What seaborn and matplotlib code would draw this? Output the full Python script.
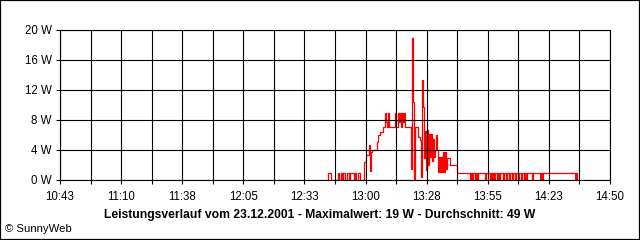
import numpy as np
import pandas as pd
import matplotlib
matplotlib.use("Agg")
import matplotlib.pyplot as plt
from matplotlib.patches import Rectangle
import seaborn as sns

times = ["12:43:00", "12:43:20", "12:44:40", "12:47:50", "12:48:20", "12:49:10", "12:49:40",
         "12:50:00", "12:51:00", "12:51:50", "12:52:50", "12:53:10", "12:55:00", "12:55:30",
         "12:56:00", "12:56:50", "12:57:40", "12:59:30", "13:00:30", "13:01:50", "13:02:10",
         "13:02:40", "13:03:10", "13:05:20", "13:05:50", "13:06:40", "13:08:00", "13:09:00",
         "13:09:20", "13:09:50", "13:10:20", "13:10:50", "13:13:30", "13:13:50", "13:14:50",
         "13:15:10", "13:15:40", "13:16:10", "13:16:40", "13:17:00", "13:17:30", "13:18:00",
         "13:20:40", "13:21:00", "13:21:30", "13:22:00", "13:22:30", "13:23:50", "13:24:40",
         "13:25:10", "13:25:30", "13:26:00", "13:26:30", "13:27:00", "13:27:20", "13:27:50",
         "13:28:20", "13:28:40", "13:29:10", "13:29:40", "13:30:00", "13:30:30", "13:31:00",
         "13:31:20", "13:31:50", "13:32:20", "13:32:50", "13:33:10", "13:33:40", "13:34:10",
         "13:34:30", "13:35:00", "13:35:30", "13:35:50", "13:36:20", "13:36:50", "13:37:10",
         "13:38:10", "13:41:20",
         "13:47:10", "13:47:30", "13:48:00", "13:48:30", "13:49:20", "13:49:50", "13:50:20", "13:50:40",
         "13:53:50", "13:54:20",
         "13:56:10", "13:56:30", "13:57:00", "13:57:30", "13:57:50", "13:58:20", "13:59:20", "13:59:40",
         "14:00:10", "14:00:40",
         "14:02:00", "14:02:20", "14:03:20", "14:03:40", "14:04:40", "14:05:10", "14:06:00", "14:06:30",
         "14:07:20", "14:07:50", "14:08:40", "14:09:10",
         "14:10:00", "14:10:30", "14:11:20", "14:11:50", "14:12:20", "14:12:40",
         "14:15:00", "14:15:30",
         "14:18:30", "14:19:00", "14:19:30", "14:19:50",
         "14:34:20", "14:34:40", "14:35:10", "14:35:40"]

watts = [0, 1, 0, 1, 0, 1, 0,
         1, 0, 1, 0, 1, 0, 1,
         0, 1, 0, 2.4, 3.3, 4.7, 1.2,
         3.8, 4.0, 5.1, 6.0, 6.4, 7.1, 9.0,
         7.8, 7.1, 9.0, 7.1, 9.0, 7.1, 9.0,
         7.8, 9.0, 7.1, 9.0, 7.8, 9.0, 7.1,
         1.5, 19.0, 10.4, 0.2, 7.1, 5.8, 5.3,
         0.4, 13.3, 9.8, 3.0, 6.5, 1.3, 6.7,
         2.0, 6.2, 3.1, 6.2, 2.5, 5.5, 3.1,
         4.0, 6.0, 4.0, 1.1, 3.1, 1.1, 3.1,
         1.1, 3.8, 1.1, 3.8, 1.5, 3.0, 2.9,
         2.0, 1.0,
         0, 1, 0, 1, 0, 1, 0, 1,
         0, 1,
         0, 1, 0, 1, 0, 1, 0, 1,
         0, 1,
         0, 1, 0, 1, 0, 1, 0, 1,
         0, 1, 0, 1,
         0, 1, 0, 1, 0, 1,
         0, 1,
         0, 1, 0, 1,
         0, 1, 0, 0]

x_labels = ["10:43", "11:10", "11:38", "12:05", "12:33", "13:00", "13:28", "13:55", "14:23", "14:50"]
y_values = [0, 4, 8, 12, 16, 20]
y_labels = ["0 W", "4 W", "8 W", "12 W", "16 W", "20 W"]
title = "Leistungsverlauf vom 23.12.2001 - Maximalwert: 19 W - Durchschnitt: 49 W"
credit = "\u00a9 SunnyWeb"

sns.set_theme(style="white")
plt.rcParams['font.family'] = ['Liberation Sans', 'DejaVu Sans']

df = pd.DataFrame({"time": times, "watt": watts})
df["minute"] = pd.to_timedelta(df["time"]).dt.total_seconds() / 60.0

def to_min(s):
    h, m = s.split(":")
    return int(h) * 60 + int(m)

x0, x1 = to_min(x_labels[0]), to_min(x_labels[-1])

fig = plt.figure(figsize=(6.4, 2.4), dpi=100)
fig.patch.set_facecolor("white")
ax = fig.add_axes([60 / 640, 60 / 240, 550 / 640, 150 / 240])
sns.lineplot(data=df, x="minute", y="watt", ax=ax, color="#ff0000", linewidth=0.9,
             drawstyle="steps-post", estimator=None, sort=False)

ax.set_xlim(x0, x1)
ax.set_ylim(0, 20)
xt = np.linspace(x0, x1, 2 * (len(x_labels) - 1) + 1)
ax.set_xticks(xt)
lbls = []
for i in range(len(xt)):
    lbls.append(x_labels[i // 2] if i % 2 == 0 else "")
ax.set_xticklabels(lbls)
ax.set_yticks(y_values)
ax.set_yticklabels(y_labels)
ax.set_xlabel("")
ax.set_ylabel("")
ax.grid(True, color="black", linewidth=0.8)
ax.set_axisbelow(False)
ax.tick_params(axis="both", direction="out", length=3, width=0.8, color="black",
               labelsize=8.3, labelcolor="black")
ax.tick_params(axis="x", pad=5, bottom=True)
ax.tick_params(axis="y", pad=3, left=True)
for s in ax.spines.values():
    s.set_visible(True)
    s.set_color("black")
    s.set_linewidth(0.8)
ax.set_facecolor("white")

fig.text(320 / 640, 1 - 215 / 240, title, ha="center", va="center", fontsize=8.7,
         fontweight="bold", color="black")
fig.text(5 / 640, 1 - 228.5 / 240, credit, ha="left", va="center", fontsize=8.2, color="black")
fig.add_artist(Rectangle((0, 0), 1, 1, transform=fig.transFigure, fill=False,
                         edgecolor="black", linewidth=1.6))

fig.savefig("out.png", dpi=100, facecolor="white")
